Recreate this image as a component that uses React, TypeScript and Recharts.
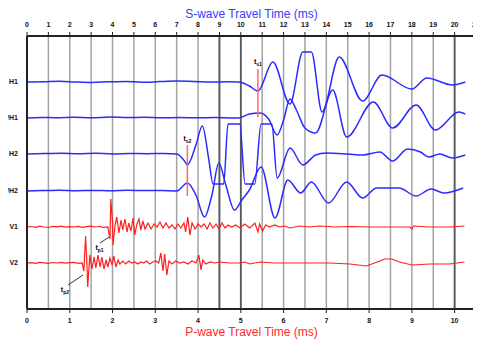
import { LineChart, Line, XAxis, YAxis, CartesianGrid, ReferenceLine, ReferenceDot } from 'recharts';

// S-wave time axis (top) and P-wave time axis (bottom), ms
const sTicks = [0, 1, 2, 3, 4, 5, 6, 7, 8, 9, 10, 11, 12, 13, 14, 15, 16, 17, 18, 19, 20, 21];
const pTicks = [0, 1, 2, 3, 4, 5, 6, 7, 8, 9, 10];
const darkGrid = [9, 10, 20];

// trace names and their baseline levels
const traceNames = ['H1', '/H1', 'H2', '/H2', 'V1', 'V2'];
const baselines = [227, 191, 155, 118, 82, 46];

// shear traces, time in S-wave ms
const h1Time = [0, 0.8, 1.5, 2.3, 3, 3.8, 4.6, 5.4, 6.2, 7, 7.8, 8.6, 9.4, 9.9, 10.4, 10.8, 11.5, 12.3, 12.9, 13.3, 13.8, 14.6, 15.7, 16.6, 18.0, 18.7, 19.9, 20.5];
const h1Amp = [0, 0.3, 0.8, 0, -0.4, 0.2, 0.6, -0.3, 0.4, 0.9, 0.6, 0, 0.2, 0, -4, -9, 20, -22, 30, 30, -30, 25, -19, 7, -7, 4, -3, 0];

const h1rTime = [0, 0.7, 1.4, 2.2, 3, 3.9, 4.7, 5.5, 6.3, 7.1, 8, 8.8, 9.6, 9.9, 10.4, 10.9, 11.3, 11.7, 12.0, 12.3, 12.6, 13.0, 13.5, 14.3, 14.95, 16.2, 17.1, 18.2, 19.1, 20.2, 20.5];
const h1rAmp = [0, 0.6, 0.2, 0.8, 0.3, 0.9, 0.4, 0.7, 0.2, 0.5, 0.2, 0.4, 0, 0, 4, 5, -1, -17, -2, 19, 8, -10, -15, 28, -19, 16, -10, 13, -12, 6, 4];

const h2Time = [0, 0.8, 1.6, 2.4, 3.2, 4, 4.8, 5.6, 6.4, 7.0, 7.4, 7.5, 7.9, 8.2, 8.5, 8.7, 9.2, 9.4, 9.95, 10.2, 10.65, 10.95, 11.45, 11.7, 12.3, 12.9, 13.5, 14.0, 15.0, 15.7, 16.5, 17.1, 17.8, 18.4, 18.8, 19.3, 19.9, 20.5];
const h2Amp = [0, 0.5, 0.8, 0.2, 0.7, 0.1, 0.6, 0.3, 0.5, 0, -8, -11, 9, 28, -5, -30, -30, 30, 30, -30, -30, 30, 30, -24, 6, -11, -1, 1, 0, -1, 2, -7, 5, 2, -3, 0, -4, -1];

const h2rTime = [0, 0.7, 1.5, 2.3, 3.1, 3.9, 4.7, 5.5, 6.3, 7.0, 7.5, 7.9, 8.3, 8.65, 8.97, 9.3, 9.7, 10.05, 10.4, 10.95, 11.6, 12.2, 12.8, 13.3, 14.1, 14.95, 15.7, 16.35, 17.4, 18.2, 18.9, 19.5, 20.4];
const h2rAmp = [0, 0.4, 0.8, 0.3, 0.6, 0.2, 0.7, 0.4, 0.6, 0, 8, -4, -26, -4, 28, 6, -19, -9, 1, 24, -27, 11, -2, 9, -12, 9, -7, 3, 3, -5, 2, -2, 3];

// vertical traces, time in P-wave ms
const v1Time = [0, 0.1, 0.2, 0.3, 0.4, 0.5, 0.6, 0.7, 0.8, 0.9, 1.0, 1.1, 1.2, 1.3, 1.4, 1.5, 1.6, 1.7, 1.8, 1.89,
  1.94, 1.96, 2.0, 2.01, 2.06, 2.1, 2.15, 2.2, 2.24, 2.29, 2.34, 2.38, 2.43, 2.48, 2.52, 2.57, 2.62, 2.66, 2.71, 2.76,
  2.83, 2.9, 2.97, 3.04, 3.11, 3.18, 3.25, 3.32, 3.39, 3.46, 3.53, 3.6, 3.67, 3.71, 3.76, 3.81, 3.86, 3.93, 4.0, 4.07,
  4.14, 4.21, 4.28, 4.35, 4.42, 4.49, 4.56, 4.63, 4.7, 4.79, 4.88, 4.98, 5.09, 5.21, 5.33, 5.4, 5.44, 5.51, 5.58, 5.68,
  5.79, 5.91, 6.03, 6.14, 6.38, 6.61, 6.85, 7.2, 7.55, 8.01, 8.48, 8.95, 9.0, 9.04, 9.42, 9.88, 10.23];
const v1Amp = [0, 0.5, -0.3, 0.8, 0, -0.5, 0.6, 0.2, 0.9, -0.2, 0.4, 0, 0.7, -0.4, 0.3, 0.8, 0, 0.5, -0.3, 0,
  -12, 28, 5, -18, 2, 10, -6, 7, -3, 8, -5, 4, -4, 9, -8, 3, 8, -3, 6, -2,
  4, -2, 3, 0, 5, -1, 4, -1, 2, -2, 3, -1, 4, -5, 10, -8, 4, -2, 3, 0,
  3, -2, 4, -1, 3, -2, 4, -1, 2, 0, 2, -1, 3, -1, 4, -5, 3, -4, 2, 0,
  2, 0, 1, -1, 1, 0, 1, 0, 0.5, 0, 0, 0, -2, 1, 0, 0, 1];

const v2Time = [0, 0.1, 0.2, 0.3, 0.4, 0.5, 0.6, 0.7, 0.8, 0.9, 1.0, 1.1, 1.2, 1.29,
  1.33, 1.37, 1.4, 1.42, 1.47, 1.52, 1.57, 1.61, 1.66, 1.71, 1.75, 1.8, 1.85, 1.89, 1.94, 1.99, 2.03, 2.08, 2.13, 2.17,
  2.24, 2.31, 2.38, 2.45, 2.52, 2.59, 2.66, 2.73, 2.8, 2.87, 2.94, 3.01, 3.08, 3.13, 3.18, 3.22, 3.27, 3.32, 3.39, 3.48,
  3.57, 3.67, 3.76, 3.86, 3.95, 4.02, 4.07, 4.11, 4.18, 4.28, 4.39, 4.51, 4.74, 4.98, 5.09, 5.21, 5.44, 5.79, 6.14, 6.61,
  7.08, 7.55, 7.94, 8.25, 8.36, 8.53, 8.71, 9.0, 9.42, 9.88, 10.23];
const v2Amp = [0, 0.4, -0.3, 0.6, 0.2, -0.4, 0.5, 0, 0.7, -0.2, 0.3, 0.6, -0.3, 0,
  -8, 27, 0, -24, 8, -6, 6, -5, 8, -4, 6, -6, 3, -4, 5, -2, 7, -4, 3, -1,
  2, -1, 2, 0, 1, -1, 1, 0, 2, -1, 1, 2, 0, 10, -8, 9, -12, 2, -1, 2,
  0, 1, -1, 2, 0, 8, -7, 3, -1, 1, 0, 1, 0, 0, 1, -1, 1, 0, 0, 0,
  0, -1, -3, 2, 4, 4, 1, -2, -1, -1, 1];

// arrival picks
const sPickTimes = [10.8, 7.5];
const sPickLow = [192, 113];
const sPickHigh = [240, 164];
const sPickLabelY = [245, 168];
const pPickOnset = [1.92, 1.31];
const pPickOnsetY = [72, 34];
const pPickEnd = [1.71, 0.96];
const pPickEndY = [66, 24];
const pPickLabelX = [1.6, 0.79];
const pPickLabelY = [59, 17];

const toSeries = (time: number[], amp: number[], base: number) =>
  time.map((t, i) => ({ t, v: base + amp[i] }));

const blue = '#2b2bff';
const red = '#ff1f1f';

const shearTraces = [
  toSeries(h1Time, h1Amp, baselines[0]),
  toSeries(h1rTime, h1rAmp, baselines[1]),
  toSeries(h2Time, h2Amp, baselines[2]),
  toSeries(h2rTime, h2rAmp, baselines[3]),
];
const pTraces = [
  toSeries(v1Time, v1Amp, baselines[4]),
  toSeries(v2Time, v2Amp, baselines[5]),
];

const PickLabel = (sub: string, anchor: 'start' | 'middle') => (props: any) => (
  <text x={props.cx} y={props.cy} textAnchor={anchor} fill="#000" fontWeight="bold" fontSize={7}>
    t<tspan fontSize={5} dy={2}>{sub}</tspan>
  </text>
);

const tickStyle = { fontSize: 7, fontWeight: 'bold', fill: '#111' };

export default function App() {
  return (
    <div style={{ width: 473, height: 332 }}>
      <LineChart width={473} height={332} margin={{ top: 0, right: 5, bottom: 0, left: 0 }}
        style={{ fontFamily: '"Liberation Sans", Arial, sans-serif' }}>
        <CartesianGrid xAxisId="s" horizontal={false} stroke="#a3a3a3" strokeWidth={1.5} />
        <XAxis xAxisId="s" orientation="top" type="number" dataKey="t" domain={[0, 21]} ticks={sTicks}
          interval={0} height={28} tickSize={4} tickMargin={5} tick={tickStyle}
          axisLine={{ stroke: '#222', strokeWidth: 2 }} tickLine={{ stroke: '#222' }}
          label={{ value: 'S-wave Travel Time (ms)', position: 'insideTop', offset: 1, fill: '#3b3bff', fontSize: 12 }} />
        <XAxis xAxisId="p" orientation="bottom" type="number" dataKey="t" domain={[0, 10.5]} ticks={pTicks}
          interval={0} height={31} tickSize={4} tickMargin={5} tick={tickStyle}
          axisLine={{ stroke: '#222', strokeWidth: 2 }} tickLine={{ stroke: '#222' }}
          label={{ value: 'P-wave Travel Time (ms)', position: 'insideBottom', offset: 4, fill: '#ff2a2a', fontSize: 12 }} />
        <YAxis type="number" domain={[0, 273]} ticks={baselines} width={19} tickSize={0} tickMargin={9}
          tickFormatter={(v: number) => traceNames[baselines.indexOf(v)]} tick={tickStyle}
          axisLine={{ stroke: '#222', strokeWidth: 2 }} tickLine={false} allowDataOverflow />
        {darkGrid.map((g) => (
          <ReferenceLine key={g} xAxisId="s" x={g} stroke="#5a5a5a" strokeWidth={1.8} />
        ))}
        <ReferenceLine xAxisId="s" x={21} stroke="#222" strokeWidth={2} />
        {shearTraces.map((d, i) => (
          <Line key={'s' + i} xAxisId="s" data={d} dataKey="v" type="monotone" stroke={blue}
            strokeWidth={1.5} dot={false} isAnimationActive={false} />
        ))}
        {pTraces.map((d, i) => (
          <Line key={'p' + i} xAxisId="p" data={d} dataKey="v" type="linear" stroke={red}
            strokeWidth={1.2} dot={false} isAnimationActive={false} />
        ))}
        {sPickTimes.map((t, i) => (
          <ReferenceLine key={'sl' + i} xAxisId="s" segment={[{ x: t, y: sPickLow[i] }, { x: t, y: sPickHigh[i] }]}
            stroke="#ff6b6b" strokeWidth={1.5} />
        ))}
        {sPickTimes.map((t, i) => (
          <ReferenceDot key={'sd' + i} xAxisId="s" x={t} y={sPickLabelY[i]} r={0}
            shape={PickLabel('s' + (i + 1), 'middle')} />
        ))}
        {pPickOnset.map((t, i) => (
          <ReferenceLine key={'pl' + i} xAxisId="p"
            segment={[{ x: t, y: pPickOnsetY[i] }, { x: pPickEnd[i], y: pPickEndY[i] }]}
            stroke="#333" strokeWidth={1} />
        ))}
        {pPickLabelX.map((t, i) => (
          <ReferenceDot key={'pd' + i} xAxisId="p" x={t} y={pPickLabelY[i]} r={0}
            shape={PickLabel('p' + (i + 1), 'start')} />
        ))}
      </LineChart>
    </div>
  );
}
